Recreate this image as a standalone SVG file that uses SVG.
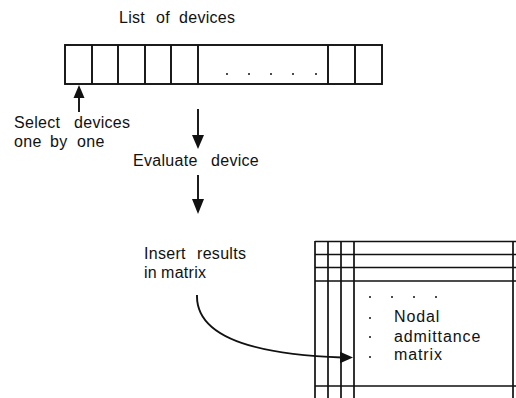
<svg xmlns="http://www.w3.org/2000/svg" width="516" height="398" viewBox="0 0 516 398">
<style>
text{font-family:"Liberation Sans",Arial,sans-serif;font-size:16px;letter-spacing:0.3px;fill:#111}
.sp{letter-spacing:0.9px}
.ln{stroke:#111;stroke-width:1.9;fill:none}
.ml{stroke:#111;stroke-width:1.7;fill:none}
.ah{fill:#111;stroke:none}
.dot{fill:#111}
</style>
<rect width="516" height="398" fill="#fff"/>
<g id="list">
<rect class="ln" x="65" y="45" width="317" height="39"/>
<path class="ln" d="M92,45V84M118,45V84M145,45V84M171,45V84M198,45V84M328,45V84M355,45V84"/>
<circle class="dot" cx="227" cy="74" r="1"/>
<circle class="dot" cx="249" cy="74" r="1"/>
<circle class="dot" cx="271" cy="74" r="1"/>
<circle class="dot" cx="293" cy="74" r="1"/>
<circle class="dot" cx="316" cy="74" r="1"/>
<text y="23"><tspan x="119">List</tspan><tspan x="156">of</tspan><tspan x="179">devices</tspan></text>
</g>
<g id="select">
<text y="128"><tspan x="14">Select</tspan><tspan x="74">devices</tspan></text>
<text y="147"><tspan x="14">one</tspan><tspan x="50">by</tspan><tspan x="77">one</tspan></text>
</g>
<g id="evaluate">
<text y="166"><tspan x="133">Evaluate</tspan><tspan x="211">device</tspan></text>
</g>
<g id="insert">
<text y="259"><tspan x="144">Insert</tspan><tspan x="197">results</tspan></text>
<text y="278"><tspan x="144">in</tspan><tspan x="161">matrix</tspan></text>
</g>
<g id="matrix">
<path class="ml" d="M315,241V398M328,241V398M341,241V398M354,241V398M513,241V398"/>
<path class="ml" d="M315,241.5H516M315,254.5H516M315,267.5H516M315,281H516M315,386H516"/>
<circle class="dot" cx="370" cy="297" r="1"/>
<circle class="dot" cx="392" cy="297" r="1"/>
<circle class="dot" cx="414" cy="297" r="1"/>
<circle class="dot" cx="436" cy="297" r="1"/>
<circle class="dot" cx="370" cy="318" r="1"/>
<circle class="dot" cx="370" cy="337" r="1"/>
<circle class="dot" cx="370" cy="357" r="1"/>
<text class="sp" x="394" y="322">Nodal</text>
<text class="sp" x="394" y="342">admittance</text>
<text class="sp" x="394" y="360">matrix</text>
</g>
<g id="connectors">
<path class="ln" d="M79,97V112"/>
<polygon class="ah" points="79,85 84.5,98 73.5,98"/>
<path class="ln" d="M198,109V137"/>
<polygon class="ah" points="198,149 192,135 204,135"/>
<path class="ln" d="M198,175V201"/>
<polygon class="ah" points="198,214 192,199 204,199"/>
<path class="ln" d="M197,295C196,332 240,354 342,357.5"/>
<polygon class="ah" points="353,357.5 340,351.7 340,363.3"/>
</g>
</svg>
